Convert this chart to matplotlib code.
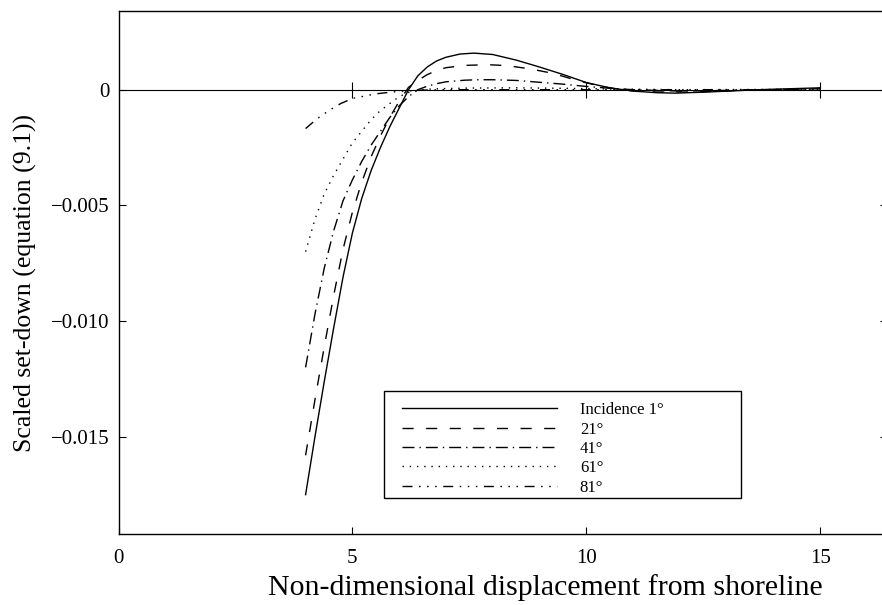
import matplotlib
matplotlib.use("Agg")
import matplotlib.pyplot as plt
from matplotlib.lines import Line2D
from matplotlib.legend_handler import HandlerLine2D
from matplotlib.patches import Rectangle

plt.rcParams['font.family'] = ['Liberation Serif', 'DejaVu Serif']
plt.rcParams['axes.unicode_minus'] = True

# set-down profiles for each angle of incidence (x = distance from shoreline)
x_1 = [4.0, 4.2, 4.4, 4.6, 4.8, 5.0, 5.2, 5.4, 5.6, 5.8, 6.0, 6.2, 6.4, 6.6, 6.8, 7.0,
       7.3, 7.6, 8.0, 8.5, 9.0, 9.5, 10.0, 10.5, 11.0, 11.5, 11.9, 12.6, 13.7, 14.5, 15.0]
y_1 = [-0.0175, -0.0150, -0.0126, -0.0103, -0.0081, -0.0062, -0.0047, -0.0035, -0.0025,
       -0.0016, -0.0008, 0.0, 0.0006, 0.00098, 0.00124, 0.0014, 0.00154, 0.00158, 0.00152,
       0.00128, 0.00098, 0.00066, 0.00031, 0.00008, -0.00006, -0.00013, -0.00015, -0.0001,
       0.0, 0.00005, 0.00008]

x_21 = [4.0, 4.2, 4.4, 4.6, 4.8, 5.0, 5.2, 5.4, 5.6, 5.8, 6.0, 6.2, 6.4, 6.6, 6.8, 7.0,
        7.4, 7.9, 8.3, 8.8, 9.3, 9.8, 10.3, 10.8, 11.5, 12.3, 13.3, 14.0, 15.0]
y_21 = [-0.0158, -0.0134, -0.0111, -0.0089, -0.0069, -0.0053, -0.0040, -0.0029, -0.0020,
        -0.0012, -0.0005, 0.0001, 0.0004, 0.00065, 0.00083, 0.00095, 0.00105, 0.00108,
        0.00104, 0.0009, 0.0007, 0.0004, 0.00015, -0.00002, -0.0001, -0.0001, -0.00003,
        0.0, 0.00006]

x_41 = [4.0, 4.2, 4.4, 4.6, 4.8, 5.0, 5.2, 5.4, 5.6, 5.8, 6.0, 6.2, 6.4, 6.6, 6.8, 7.0,
        7.4, 7.7, 8.0, 8.5, 9.0, 9.5, 10.0, 10.5, 11.0, 12.0, 13.0, 14.0, 15.0]
y_41 = [-0.0120, -0.0097, -0.0077, -0.0061, -0.0048, -0.0039, -0.0031, -0.0024, -0.0018,
        -0.0012, -0.0007, -0.0003, 0.0, 0.00015, 0.00026, 0.00034, 0.00041, 0.00043,
        0.00043, 0.0004, 0.00032, 0.00024, 0.00014, 0.00006, 0.0, -0.00006, -0.00003,
        0.0, 0.00004]

x_61 = [4.0, 4.2, 4.4, 4.6, 4.8, 5.0, 5.2, 5.4, 5.6, 5.8, 6.0, 6.2, 6.4, 6.6, 7.0, 7.5,
        8.5, 9.5, 10.5, 12.0, 15.0]
y_61 = [-0.0070, -0.0056, -0.0045, -0.0037, -0.0030, -0.0023, -0.0018, -0.0013, -0.0009,
        -0.0006, -0.0003, -0.00012, -0.00003, 0.00002, 0.00005, 0.00007, 0.00008, 0.00006,
        0.00003, 0.0, 0.00002]

x_81 = [4.0, 4.25, 4.5, 4.75, 5.0, 5.5, 6.0, 6.5, 7.0, 10.0, 15.0]
y_81 = [-0.00168, -0.00125, -0.0009, -0.0006, -0.00038, -0.00018, -0.00007, -0.00002, 0.0,
        0.0, 0.0]

labels = ['Incidence 1°', '21°', '41°', '61°', '81°']
styles = ['-', (0, (8, 9)), (0, (8.6, 3.6, 1, 3.6)), (0, (1, 4.2)),
          (0, (7.2, 4.7, 1.1, 4.7, 1.1, 4.7, 1.1, 4.7))]

xs = [x_1, x_21, x_41, x_61, x_81]
ys = [y_1, y_21, y_41, y_61, y_81]

fig = plt.figure(figsize=(8.82, 6.05), dpi=100)
ax = fig.add_axes([118.5 / 882, 71 / 605, 768.5 / 882, 523 / 605])

for xx, yy, ls, lab in zip(xs, ys, styles, labels):
    ax.plot(xx, yy, color='black', lw=1.0, linestyle=ls, label=lab)

ax.set_xlim(0, 16.43)
ax.set_ylim(-0.0192, 0.0034)
ax.set_xticks([0, 5, 10, 15])
ax.set_xticklabels(['0', '5', '10', '15'])
ax.set_yticks([-0.015, -0.010, -0.005, 0])
ax.set_yticklabels(['\u22120.015', '\u22120.010', '\u22120.005', '0'])
ax.tick_params(direction='in', length=5, width=0.8, top=True, right=True, labelsize=15)
ax.tick_params(axis='x', pad=11)
ax.tick_params(axis='y', pad=6.5)
for sp in ax.spines.values():
    sp.set_linewidth(1.0)

ax.set_xlabel('Non-dimensional displacement from shoreline', fontsize=21.5, labelpad=4)
ax.xaxis.label.set_x(0.556)
ax.set_ylabel('Scaled set-down (equation (9.1))', fontsize=18.5, labelpad=10)
ax.yaxis.label.set_y(0.48)

# zero line drawn as an axis with ticks through it
ax0 = ax.twiny()
ax0.set_xlim(ax.get_xlim())
ax0.set_xticks([5, 10, 15])
ax0.xaxis.set_ticks_position('bottom')
ax0.spines['bottom'].set_position(('data', 0))
for name in ['top', 'left', 'right']:
    ax0.spines[name].set_visible(False)
ax0.spines['bottom'].set_linewidth(0.8)
ax0.tick_params(axis='x', direction='inout', length=12, width=0.8,
                labelbottom=False, labeltop=False)
ax0.patch.set_visible(False)

# legend box drawn separately so the entries can sit a little low in it
ax.add_patch(Rectangle((0.3455, 0.0688), 0.4645, 0.2046, transform=ax.transAxes,
                       facecolor='white', edgecolor='black', lw=1.0, zorder=4))
leg = ax.legend(loc='lower left', bbox_to_anchor=(0.3455, 0.0592, 0.4645, 0.2),
                mode='expand', fontsize=12, handlelength=9.92, handletextpad=1.38,
                labelspacing=0.2, borderpad=0.45, borderaxespad=0, frameon=False,
                handler_map={Line2D: HandlerLine2D(xpad=0.64)})
leg.set_zorder(5)

fig.savefig('out.png', dpi=100)
